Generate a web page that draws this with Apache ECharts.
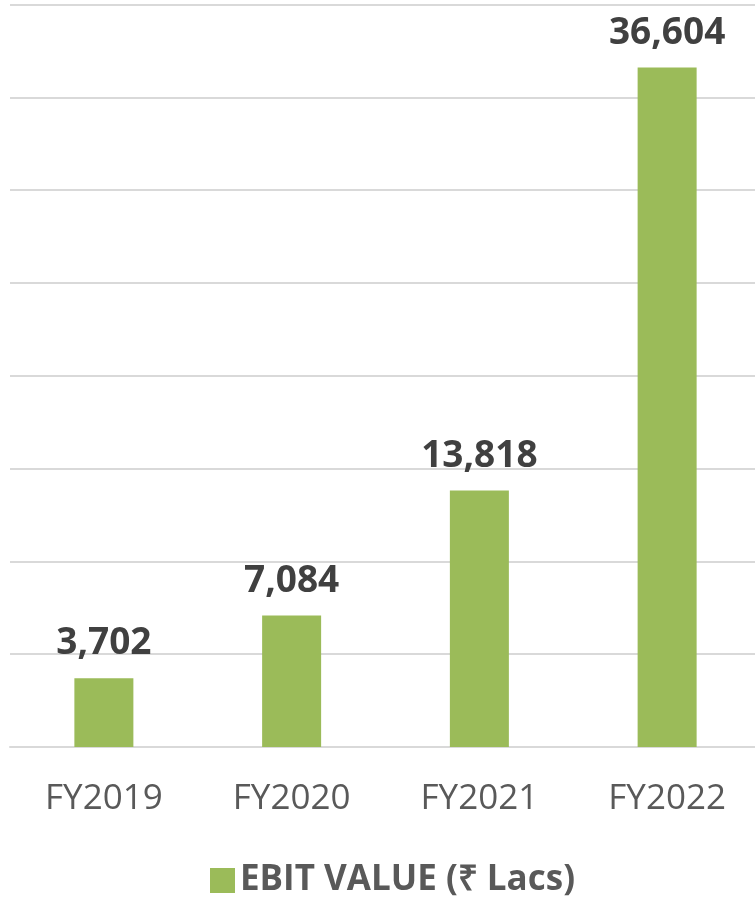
<!DOCTYPE html>
<html>
<head>
<meta charset="utf-8">
<script src="https://cdn.jsdelivr.net/npm/echarts@6/dist/echarts.min.js"></script>
<style>
  html, body { margin: 0; padding: 0; background: #fff; }
  #chart { width: 755px; height: 900px; }
</style>
</head>
<body>
<div id="chart"></div>
<script>
  let years = ['FY2019', 'FY2020', 'FY2021', 'FY2022'];
  let ebitValues = [3702, 7084, 13818, 36604];
  let seriesName = 'EBIT VALUE (₹ Lacs)';

  let myChart = echarts.init(document.getElementById('chart'));

  let option = {
    animation: false,
    legend: {
      data: [seriesName],
      left: 205,
      top: 858,
      icon: 'rect',
      itemWidth: 25,
      itemHeight: 25,
      itemGap: 10,
      textStyle: {
        color: '#595959',
        fontSize: 35,
        fontWeight: 'bold',
        fontFamily: 'Open Sans'
      }
    },
    grid: {
      top: 4.5,
      left: 10,
      width: 751,
      height: 742.5,
      outerBoundsMode: 'none',
      containLabel: false
    },
    xAxis: {
      type: 'category',
      data: years,
      axisLine: { show: true, lineStyle: { color: '#d9d9d9', width: 2 } },
      axisTick: { show: false },
      axisLabel: {
        color: '#595959',
        fontSize: 35,
        fontFamily: 'Open Sans',
        margin: 35
      }
    },
    yAxis: {
      type: 'value',
      min: 0,
      max: 40000,
      interval: 5000,
      axisLine: { show: false },
      axisTick: { show: false },
      axisLabel: { show: false },
      splitLine: { show: true, lineStyle: { color: '#d9d9d9', width: 2 } }
    },
    series: [{
      name: seriesName,
      type: 'bar',
      data: ebitValues,
      barWidth: 59,
      itemStyle: { color: '#9bbb59' },
      label: {
        show: true,
        position: 'top',
        distance: 16,
        color: '#404040',
        fontSize: 37,
        fontWeight: 'bold',
        fontFamily: 'Open Sans',
        formatter: function (p) {
          return p.value.toLocaleString('en-US');
        }
      }
    }]
  };

  myChart.setOption(option);
</script>
</body>
</html>
